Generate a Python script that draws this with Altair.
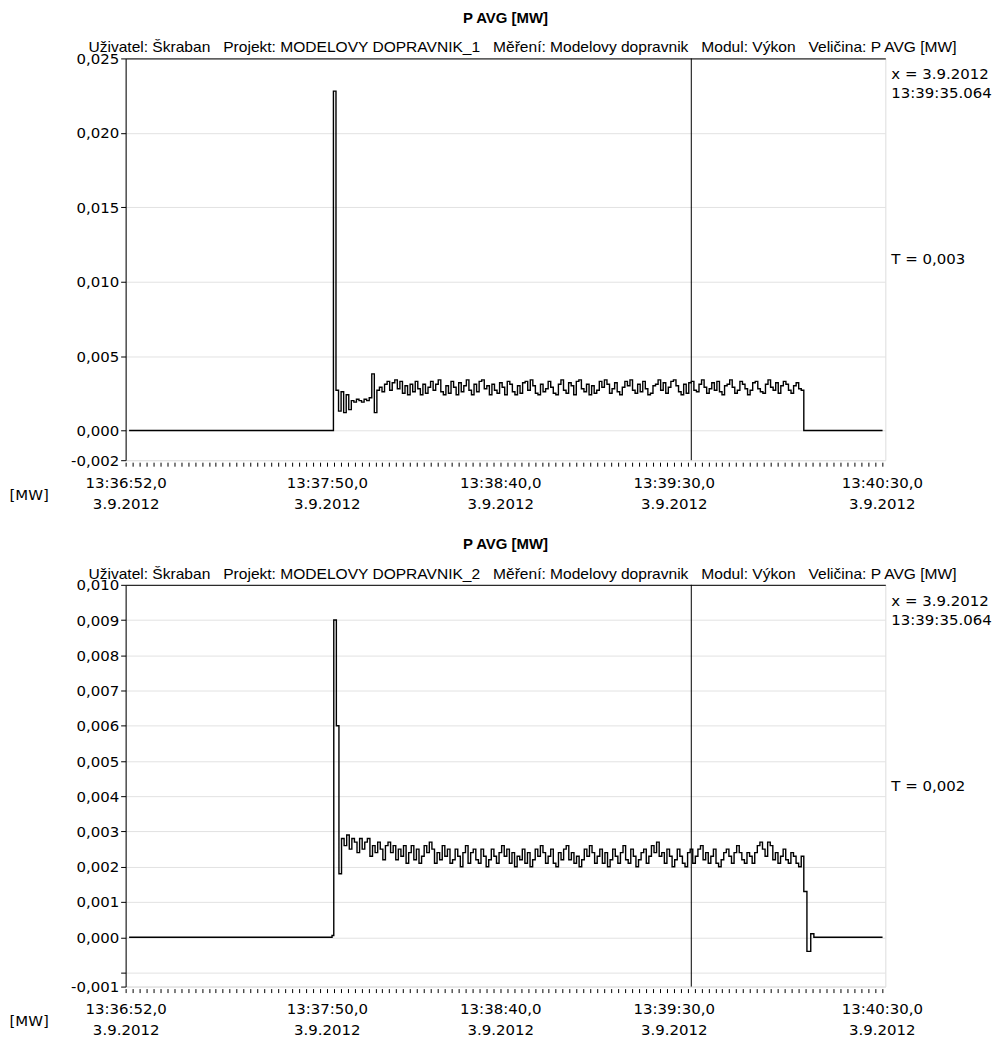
import altair as alt
import pandas as pd

# time axis: seconds after 13:36:52 on 3.9.2012
X_END = 219.0
MAJOR_SECS = [0, 58, 108, 158, 218]
MINOR_SECS = list(range(0, 219, 2))
CURSOR_SEC = 163.064
T_FIRST = 1.0
T_LAST = 218.2

SEP = "\u00a0\u00a0\u00a0"
SUBTITLES = [
    SEP.join(["Uživatel: Škraban", "Projekt: MODELOVY DOPRAVNIK_1", "Měření: Modelovy dopravnik",
              "Modul: Výkon", "Veličina: P AVG [MW]"]),
    SEP.join(["Uživatel: Škraban", "Projekt: MODELOVY DOPRAVNIK_2", "Měření: Modelovy dopravnik",
              "Modul: Výkon", "Veličina: P AVG [MW]"]),
]
CURSOR_TEXT = "x = 3.9.2012\n13:39:35.064"
T_TEXTS = ["T = 0,003", "T = 0,002"]

# ---- panel 1 (values in 1e-4 MW) ----
top_pre_t = []
top_pre_v = []
top_t_on = 59.9
top_t_off = 195.5
top_vals = [228, 27, 13, 26, 12, 24, 14, 20, 19, 21, 20, 19, 21, 20, 22, 38, 12, 27, 29, 26,
            31, 33, 27, 32, 34, 28, 33, 25, 30, 24, 31, 26, 33, 28, 24, 31, 25, 29, 33, 27,
            31, 34, 26, 24, 30, 25, 33, 29, 24, 32, 26, 30, 34, 27, 24, 31, 26, 33, 34, 28,
            30, 24, 31, 27, 25, 32, 29, 24, 33, 31, 26, 24, 30, 25, 32, 33, 27, 34, 30, 25,
            24, 31, 26, 28, 33, 29, 25, 24, 31, 34, 27, 25, 32, 30, 24, 33, 34, 28, 26, 31,
            24, 30, 25, 27, 33, 29, 34, 31, 25, 28, 32, 26, 24, 29, 33, 30, 34, 27, 25, 31,
            26, 33, 28, 24, 25, 30, 31, 34, 27, 32, 25, 29, 33, 34, 30, 26, 24, 31, 25, 32,
            33, 27, 26, 31, 34, 29, 25, 28, 32, 27, 33, 26, 24, 30, 31, 34, 29, 25, 27, 33,
            31, 28, 24, 27, 32, 33, 28, 26, 25, 31, 34, 29, 27, 32, 25, 30, 33, 31, 27, 25,
            30, 32, 28, 27]
top_tail_t = [195.5]
top_tail_v = [0]

# ---- panel 2 (values in 1e-4 MW) ----
bot_pre_t = [59.5]
bot_pre_v = [0.5]
bot_t_on = 60.0
bot_t_off = 195.5
bot_vals = [90, 60, 18, 28, 26, 29, 25, 28, 27, 24, 28, 25, 27, 28, 23, 26, 24, 27, 25, 22,
            26, 27, 24, 26, 22, 25, 23, 26, 21, 24, 26, 22, 25, 21, 23, 26, 24, 27, 25, 21,
            24, 22, 26, 23, 25, 21, 22, 25, 23, 20, 24, 26, 21, 24, 25, 22, 21, 25, 23, 20,
            22, 25, 23, 21, 24, 26, 23, 25, 21, 24, 20, 23, 22, 25, 21, 24, 20, 22, 25, 23,
            26, 24, 21, 23, 25, 21, 20, 24, 22, 25, 26, 22, 24, 21, 23, 20, 22, 25, 23, 26,
            24, 21, 23, 25, 21, 24, 20, 22, 25, 23, 21, 24, 26, 22, 21, 25, 23, 20, 22, 24,
            25, 21, 23, 26, 24, 27, 23, 24, 21, 25, 23, 20, 22, 25, 23, 21, 20, 24, 25, 21,
            23, 25, 26, 22, 24, 21, 23, 25, 21, 20, 22, 24, 25, 23, 21, 24, 26, 24, 22, 21,
            24, 23, 21, 24, 26, 27, 25, 23, 27, 26, 22, 24, 21, 23, 25, 22, 21, 24, 23, 21,
            20, 23]
bot_tail_t = [195.5, 196.4, 197.5, 198.4]
bot_tail_v = [13, -4, 1, 0]

TOP_YDOM = [-0.002, 0.025]
TOP_YTICKS = [-0.002, 0.0, 0.005, 0.010, 0.015, 0.020, 0.025]
BOT_YDOM = [-0.0014, 0.010]
BOT_YTICKS = [-0.0014, -0.001, 0.0, 0.001, 0.002, 0.003, 0.004, 0.005, 0.006, 0.007, 0.008, 0.009, 0.010]

W, H = 762, 403
NUM_FONT = "DejaVu Sans"
TXT_FONT = "Liberation Sans"


def series(pre_t, pre_v, t_on, t_off, vals, tail_t, tail_v):
    n = len(vals)
    dt = (t_off - t_on) / n
    ts = [T_FIRST] + pre_t + [t_on + i * dt for i in range(n)] + tail_t + [T_LAST]
    vs = [0] + pre_v + vals + tail_v + [0]
    return pd.DataFrame({"t": ts, "p": [v / 10000 for v in vs]})


YLAB = ("abs(datum.value + 0.001) < 1e-7 ? '' : "
        "replace(replace(format(datum.value, '.3f'), '.', ','), '\u2212', '-')")
XLAB = ("indexof(" + str(MAJOR_SECS) + ", datum.value) >= 0 ? "
        "[timeFormat(datetime(2012, 8, 3, 13, 36, 52 + datum.value), '%H:%M:%S') + ',0', '3.9.2012'] : ''")


def panel(df, ydom, yticks, subtitle, ttext):
    xs = alt.Scale(domain=[0, X_END], nice=False, zero=False)
    ys = alt.Scale(domain=ydom, nice=False, zero=False)
    x_axis = alt.Axis(values=MINOR_SECS, labelExpr=XLAB, tickSize=4, tickColor="black",
                      tickWidth=1, domain=False, grid=False, offset=2, labelFlush=False,
                      labelOverlap=False, labelPadding=9, labelLineHeight=21, labelBaseline="top",
                      labelFont=NUM_FONT, labelFontSize=15, labelColor="black", title=None)
    y_axis = alt.Axis(values=yticks, labelExpr=YLAB, tickSize=5, tickColor="black",
                      domain=True, domainColor="black", grid=True, gridColor="#e2e2e2",
                      labelFont=NUM_FONT, labelFontSize=15, labelColor="black", labelPadding=2,
                      labelOverlap=False, labelFlush=False,
                      title="[MW]", titleAngle=0, titleAlign="left", titleBaseline="middle",
                      titleX=-117, titleY=H + 34, titleFont=NUM_FONT, titleFontSize=15,
                      titleFontWeight="normal", titleColor="black")
    y_enc = alt.Y("p:Q", scale=ys, axis=y_axis)
    line = alt.Chart(df).mark_line(interpolate="step-after", color="black", strokeWidth=1.4).encode(
        x=alt.X("t:Q", scale=xs, axis=x_axis),
        y=y_enc,
    )
    cur = alt.Chart(pd.DataFrame({"t": [CURSOR_SEC]})).mark_rule(color="black", strokeWidth=1).encode(
        x=alt.X("t:Q", scale=xs, axis=alt.Axis(orient="top", domain=True, domainColor="black",
                                                ticks=False, labels=False, grid=False, title=None)),
    )
    ann = pd.DataFrame({
        "t": [114.4, X_END, X_END],
        "p": [ydom[1], ydom[1], (ydom[0] + ydom[1]) / 2],
        "txt": [subtitle, CURSOR_TEXT, ttext],
        "kind": ["sub", "cur", "T"],
    })
    enc = dict(x=alt.X("t:Q", scale=xs, axis=None), y=y_enc, text="txt:N")
    sub = alt.Chart(ann).transform_filter("datum.kind == 'sub'").mark_text(
        font=TXT_FONT, fontSize=15.6, color="black", align="center", baseline="bottom", dy=-3
    ).encode(**enc)
    curtxt = alt.Chart(ann).transform_filter("datum.kind == 'cur'").mark_text(
        font=NUM_FONT, fontSize=15, color="black", align="left", baseline="top", dx=6, dy=9,
        lineBreak="\n", lineHeight=19
    ).encode(**enc)
    ttxt = alt.Chart(ann).transform_filter("datum.kind == 'T'").mark_text(
        font=NUM_FONT, fontSize=15, color="black", align="left", baseline="middle", dx=6
    ).encode(**enc)
    return alt.layer(line, cur, sub, curtxt, ttxt).resolve_axis(x="independent").properties(
        width=W, height=H,
        title=alt.TitleParams("P AVG [MW]", font=TXT_FONT, fontSize=15, fontWeight="bold",
                              color="black", anchor="middle", frame="group", offset=15),
    )


df_top = series(top_pre_t, top_pre_v, top_t_on, top_t_off, top_vals, top_tail_t, top_tail_v)
df_bot = series(bot_pre_t, bot_pre_v, bot_t_on, bot_t_off, bot_vals, bot_tail_t, bot_tail_v)

chart = alt.vconcat(
    panel(df_top, TOP_YDOM, TOP_YTICKS, SUBTITLES[0], T_TEXTS[0]),
    panel(df_bot, BOT_YDOM, BOT_YTICKS, SUBTITLES[1], T_TEXTS[1]),
    spacing=24,
).properties(
    padding={"left": 0, "top": 0, "right": 0, "bottom": 0}
).configure_view(stroke="#9a9a9a", strokeWidth=1).configure(background="white")

chart.save("out.html", embed_options={"renderer": "svg", "actions": False})
